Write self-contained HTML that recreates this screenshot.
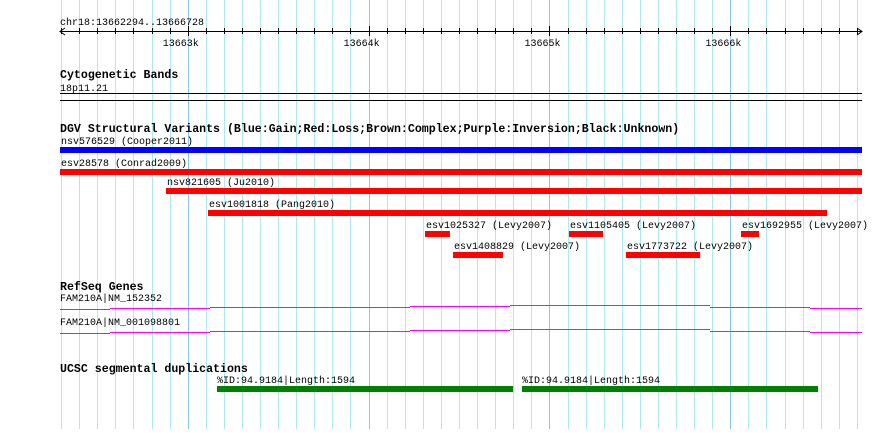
<!DOCTYPE html>
<html><head><meta charset="utf-8"><style>
body{margin:0;background:#fff}
svg text{font-family:"Liberation Mono","DejaVu Sans Mono",monospace;font-size:10px;fill:#000}
svg text.t{font-weight:bold;font-size:11.6px}
</style></head><body>
<svg id="c" width="890" height="429" viewBox="0 0 890 429" xmlns="http://www.w3.org/2000/svg">
<g id="grid"></g>
<g id="axis"></g>
<g id="tracks"></g>
</svg>
<script>
const regionStart = 13662294;
const regionEnd = 13666728;
const tickLabels = ["13663k","13664k","13665k","13666k"];
const tickPositions = [13663000,13664000,13665000,13666000];
const svNames = ["nsv576529 (Cooper2011)","esv28578 (Conrad2009)","nsv821605 (Ju2010)","esv1001818 (Pang2010)","esv1025327 (Levy2007)","esv1105405 (Levy2007)","esv1692955 (Levy2007)","esv1408829 (Levy2007)","esv1773722 (Levy2007)"];
const svStarts = [13662294,13662294,13662880,13663112,13664312,13665108,13666059,13664467,13665423];
const svEnds = [13666728,13666728,13666728,13666535,13664450,13665296,13666159,13664743,13665833];
const svTypes = ["gain","loss","loss","loss","loss","loss","loss","loss","loss"];
const svRows = [0,1,2,3,4,4,4,5,5];
const dupLabels = ["%ID:94.9184|Length:1594","%ID:94.9184|Length:1594"];
const dupStarts = [13663162,13664848];
const dupEnds = [13664799,13666485];
const geneNames = ["FAM210A|NM_152352","FAM210A|NM_001098801"];

const X0=60, X1=862;
const sx = p => X0 + (p-regionStart)*(X1-X0)/(regionEnd-regionStart);
const NS="http://www.w3.org/2000/svg";
function mk(parent,tag,attrs,text){const e=document.createElementNS(NS,tag);for(const k in attrs)e.setAttribute(k,attrs[k]);if(text!==undefined)e.textContent=text;parent.appendChild(e);return e;}
const grid=document.getElementById('grid'),axis=document.getElementById('axis'),tracks=document.getElementById('tracks');

for(let p=Math.ceil(regionStart/100)*100;p<=regionEnd;p+=100){
  const x=Math.round(sx(p))+0.5;
  const major=p%1000===0;
  const l=mk(grid,'line',{x1:x,x2:x,y1:0,y2:429,stroke:major?'#88c8e8':'#b0e8f0','stroke-width':1});
  
  
  const tk=mk(axis,'line',{x1:x,x2:x,y1:major?26:28,y2:major?36:34,stroke:'#000'});
  
  
}
const t0=mk(axis,'text',{x:X0,y:25},`chr18:${regionStart}..${regionEnd}`);


const al=mk(axis,'line',{x1:X0,x2:X1,y1:31.5,y2:31.5,stroke:'#000'});


mk(axis,'path',{d:`M${X0+5},28 L${X0},31.5 L${X0+5},35 M${X1-5},28 L${X1},31.5 L${X1-5},35`,stroke:'#000',fill:'none'});
tickPositions.forEach((p,i)=>{
  const t=mk(axis,'text',{x:sx(p)-25,y:46},tickLabels[i]);
  
  
});

function title(txt,y,name){const t=mk(tracks,'text',{x:X0,y:y,class:'t'},txt);}
title("Cytogenetic Bands",78,'cytoband-title');
mk(tracks,'text',{x:X0,y:91},"18p11.21");
mk(tracks,'rect',{x:X0,y:93,width:X1-X0,height:1,fill:'#000'});
mk(tracks,'rect',{x:X0,y:100,width:X1-X0,height:1,fill:'#000'});

title("DGV Structural Variants (Blue:Gain;Red:Loss;Brown:Complex;Purple:Inversion;Black:Unknown)",132,'dgv-title');
const rowY=[147,169,188,210,231,252];
svNames.forEach((n,i)=>{
  const x=sx(svStarts[i]),w=sx(svEnds[i])-x,y=rowY[svRows[i]];
  const r=mk(tracks,'rect',{x:x,y:y,width:w,height:6,fill:svTypes[i]==='gain'?'#0000ff':'#ff0000'});
  
  
  const t=mk(tracks,'text',{x:x+1,y:y-3},n);
  
  
});

title("RefSeq Genes",290,'refseq-title');
const steps=[[60,110,2],[110,210,1],[210,410,0],[410,510,-1],[510,710,-2],[710,810,0],[810,862,1]];
geneNames.forEach((n,i)=>{
  const base=i===0?307:331;
  mk(tracks,'text',{x:X0,y:base-6},n);
  steps.forEach(s=>{
    const yy=base+s[2]+0.5;
    const l=mk(tracks,'line',{x1:s[0],x2:s[1],y1:yy,y2:yy,stroke:'#ff00ff','stroke-width':1});
    
    
  });
});

title("UCSC segmental duplications",372,'segdup-title');
dupLabels.forEach((n,i)=>{
  const x=sx(dupStarts[i]),w=sx(dupEnds[i])-x;
  const r=mk(tracks,'rect',{x:x,y:386,width:w,height:6,fill:'#008000'});
  
  
  const t=mk(tracks,'text',{x:x,y:383},n);
  
  
});
</script>
</body></html>
